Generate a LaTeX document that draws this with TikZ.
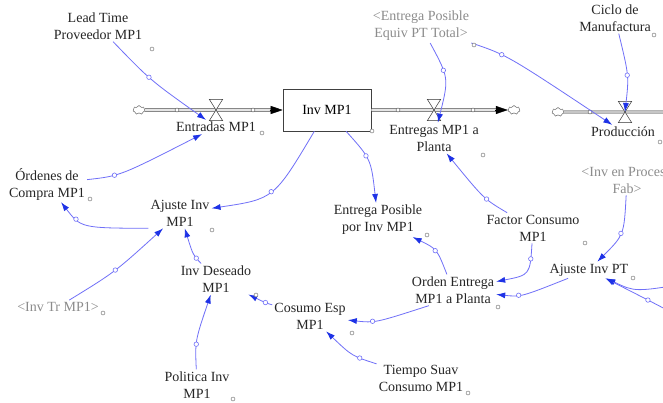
\documentclass[tikz,border=0pt]{standalone}
\usepackage{fontspec}
\setmainfont{Liberation Serif}
\usetikzlibrary{arrows.meta,shapes.symbols}
\definecolor{linkblue}{RGB}{112,112,248}
\definecolor{headblue}{RGB}{30,50,230}
\definecolor{shadowgray}{RGB}{140,140,140}

\begin{document}
\begin{tikzpicture}[x=1pt,y=-1pt]
                    \tikzstyle{every node}+=[inner sep=0pt]
                    \tikzstyle{var}=[align=center, inner sep=2pt, font=\fontsize{14}{17}\selectfont, text=black!85]
                    \tikzstyle{shadowvar}=[var, text=shadowgray]
                    \tikzstyle{stock}=[draw=black!75, fill=white, line width=0.6pt, minimum width=88pt, minimum height=42pt, font=\fontsize{14}{17}\selectfont]
                    \tikzstyle{valve}=[minimum width=13pt, minimum height=21pt]
                    \tikzstyle{valveline}=[draw=black!80, fill=white, line width=0.5pt]
                    \tikzstyle{sink}=[cloud, cloud puffs=7, cloud ignores aspect, draw=black!60, line width=0.5pt, minimum width=12pt, minimum height=9pt]
                    \tikzstyle{pipe}=[draw=black!80, double=gray!20, double distance=2.2pt, line width=0.6pt]
                    \tikzstyle{greypipe}=[draw=gray!60, double=gray!45, double distance=2.4pt, line width=0.6pt]
                    \tikzstyle{pipetip}=[black, line width=0.5pt, -{Triangle[length=12pt,width=8pt]}]
                    \tikzstyle{pipedot}=[circle, draw=black!70, fill=white, minimum size=4pt, line width=0.4pt]
                    \tikzstyle{link}=[draw=linkblue, line width=0.8pt, -{Latex[length=9pt,width=6pt,color=headblue]}]
                    \tikzstyle{handle}=[circle, draw=linkblue, fill=white, minimum size=4.5pt, line width=0.6pt]
                    \tikzstyle{marker}=[circle, draw=black!60, fill=white, minimum size=4pt, line width=0.4pt]
                    \useasboundingbox (0,0) rectangle (663,402);
                    \clip (0,0) rectangle (663,402);
                    \fill [white] (0,0) rectangle (663,402);
                    \node [var] (leadtime) at (98,26) {Lead Time\\Proveedor MP1};
                    \node [shadowvar] (epequiv) at (421,26) {<Entrega Posible\\Equiv PT Total>};
                    \node [var] (ciclo) at (615,18) {Ciclo de\\Manufactura};
                    \node [stock] (invmp1) at (327,110) {Inv MP1};
                    \node [sink] (cloudin) at (139,110) {};
                    \node [sink] (cloudout) at (514,110) {};
                    \node [sink] (cloudprod) at (558,112) {};
                    \coordinate (prodout) at (700,112);
                    \node [valve] (ventradas) at (216,110) {};
                    \node [valve] (ventregas) at (434,110) {};
                    \node [valve] (vproduccion) at (625,112) {};
                    \node [var] (entradas) at (216,127) {Entradas MP1};
                    \node [var] (entregas) at (434,138) {Entregas MP1 a\\Planta};
                    \node [var] (produccion) at (623,132) {Producción};
                    \node [shadowvar] (invproc) at (627,180) {<Inv en Proceso\\Fab>};
                    \node [var] (ordenes) at (47,184) {Órdenes de\\Compra MP1};
                    \node [var] (ajusteinv) at (180,213) {Ajuste Inv\\MP1};
                    \node [var] (entregaposible) at (378,220) {Entrega Posible\\por Inv MP1};
                    \node [var] (factor) at (533,228) {Factor Consumo\\MP1};
                    \node [var] (ajustept) at (589,270) {Ajuste Inv PT};
                    \node [var] (invdeseado) at (216,279) {Inv Deseado\\MP1};
                    \node [var] (ordenentrega) at (453,290) {Orden Entrega\\MP1 a Planta};
                    \node [shadowvar] (invtr) at (58,307) {<Inv Tr MP1>};
                    \node [var] (consumo) at (310,316) {Cosumo Esp\\MP1};
                    \node [var] (tiempo) at (421,378) {Tiempo Suav\\Consumo MP1};
                    \node [var] (politica) at (197,385) {Politica Inv\\MP1};
                    \coordinate (ext1) at (690,283);
                    \coordinate (ext2) at (690,322);
                    \draw [pipe, shorten >=10pt] (cloudin) -- (invmp1);
                    \draw [pipetip] (invmp1.west) ++(-13,0) -- (invmp1.west);
                    \draw [pipe, shorten >=10pt] (invmp1) -- (cloudout);
                    \draw [pipetip] (cloudout.west) ++(-13,0) -- (cloudout.west);
                    \draw [greypipe] (cloudprod) -- (prodout);
                    \node [pipedot] (pd1) at (177,110) {};
                    \node [pipedot] (pd2) at (253,110) {};
                    \node [pipedot] (pd3) at (398,110) {};
                    \node [pipedot] (pd4) at (473,110) {};
                    \node [pipedot] (pd5) at (590,112) {};
                    \draw [valveline] (ventradas.north west) -- (ventradas.north east) -- (ventradas.south west) -- (ventradas.south east) -- cycle;
                    \draw [valveline] (ventregas.north west) -- (ventregas.north east) -- (ventregas.south west) -- (ventregas.south east) -- cycle;
                    \draw [valveline] (vproduccion.north west) -- (vproduccion.north east) -- (vproduccion.south west) -- (vproduccion.south east) -- cycle;
                    \draw [link] (leadtime) .. controls (150,80) .. (entradas) node [handle, pos=.45] (h1) {};
                    \draw [link] (ordenes) .. controls (120,176) .. (entradas) node [handle, pos=.35] (h2) {};
                    \draw [link] (invmp1) .. controls (274,199) .. (ajusteinv) node [handle, pos=.5] (h3) {};
                    \draw [link] (ajusteinv.south west) .. controls (81,228) .. (ordenes) node [handle, pos=.7] (h4) {};
                    \draw [link] (invtr) .. controls (115,272) .. (ajusteinv) node [handle, pos=.5] (h5) {};
                    \draw [link] (invdeseado) .. controls (193,255) .. (ajusteinv) node [handle, pos=.25] (h6) {};
                    \draw [link] (politica) .. controls (195,341) .. (invdeseado) node [handle, pos=.4] (h7) {};
                    \draw [link] (consumo) .. controls (266,303) .. (invdeseado) node [handle, pos=.45] (h8) {};
                    \draw [link] (ordenentrega.-147) .. controls (375,323) .. (consumo) node [handle, pos=.6] (h9) {};
                    \draw [link] (tiempo) .. controls (352,356) .. (consumo) node [handle, pos=.3] (h10) {};
                    \draw [link] (ordenentrega) .. controls (437,249) .. (entregaposible) node [handle, pos=.5] (h11) {};
                    \draw [link] (factor) .. controls (530,275) .. (ordenentrega) node [handle, pos=.2] (h12) {};
                    \draw [link] (ajustept) .. controls (521,297) .. (ordenentrega) node [handle, pos=.6] (h13) {};
                    \draw [link] (invproc) .. controls (624,235) .. (ajustept) node [handle, pos=.5] (h14) {};
                    \draw [link] (ext1) .. controls (635,292) .. (ajustept);
                    \draw [link] (ext2) .. controls (648,300) .. (ajustept) node [handle, pos=.5] (h15) {};
                    \draw [link] (factor) .. controls (484,199) .. (entregas) node [handle, pos=.4] (h16) {};
                    \draw [link] (invmp1) .. controls (371,159) .. (entregaposible) node [handle, pos=.4] (h17) {};
                    \draw [link] (epequiv) .. controls (449,78) .. (entregas) node [handle, pos=.35] (h18) {};
                    \draw [link] (epequiv) .. controls (507,55) .. (produccion) node [handle, pos=.35] (h19) {};
                    \draw [link] (ciclo) .. controls (629,76) .. (vproduccion.center) node [handle, pos=.5] (h20) {};
                    \foreach \mx/\my [count=\i] in {152/49, 262/133, 372/131, 483/155, 474/45, 654/35, 660/142, 90/199, 212/230, 103/313, 256/295, 233/399, 352/333, 468/393, 427/235, 585/243, 498/307, 633/278}
                        \node [marker] (mk\i) at (\mx,\my) {};
                \end{tikzpicture}
\end{document}
